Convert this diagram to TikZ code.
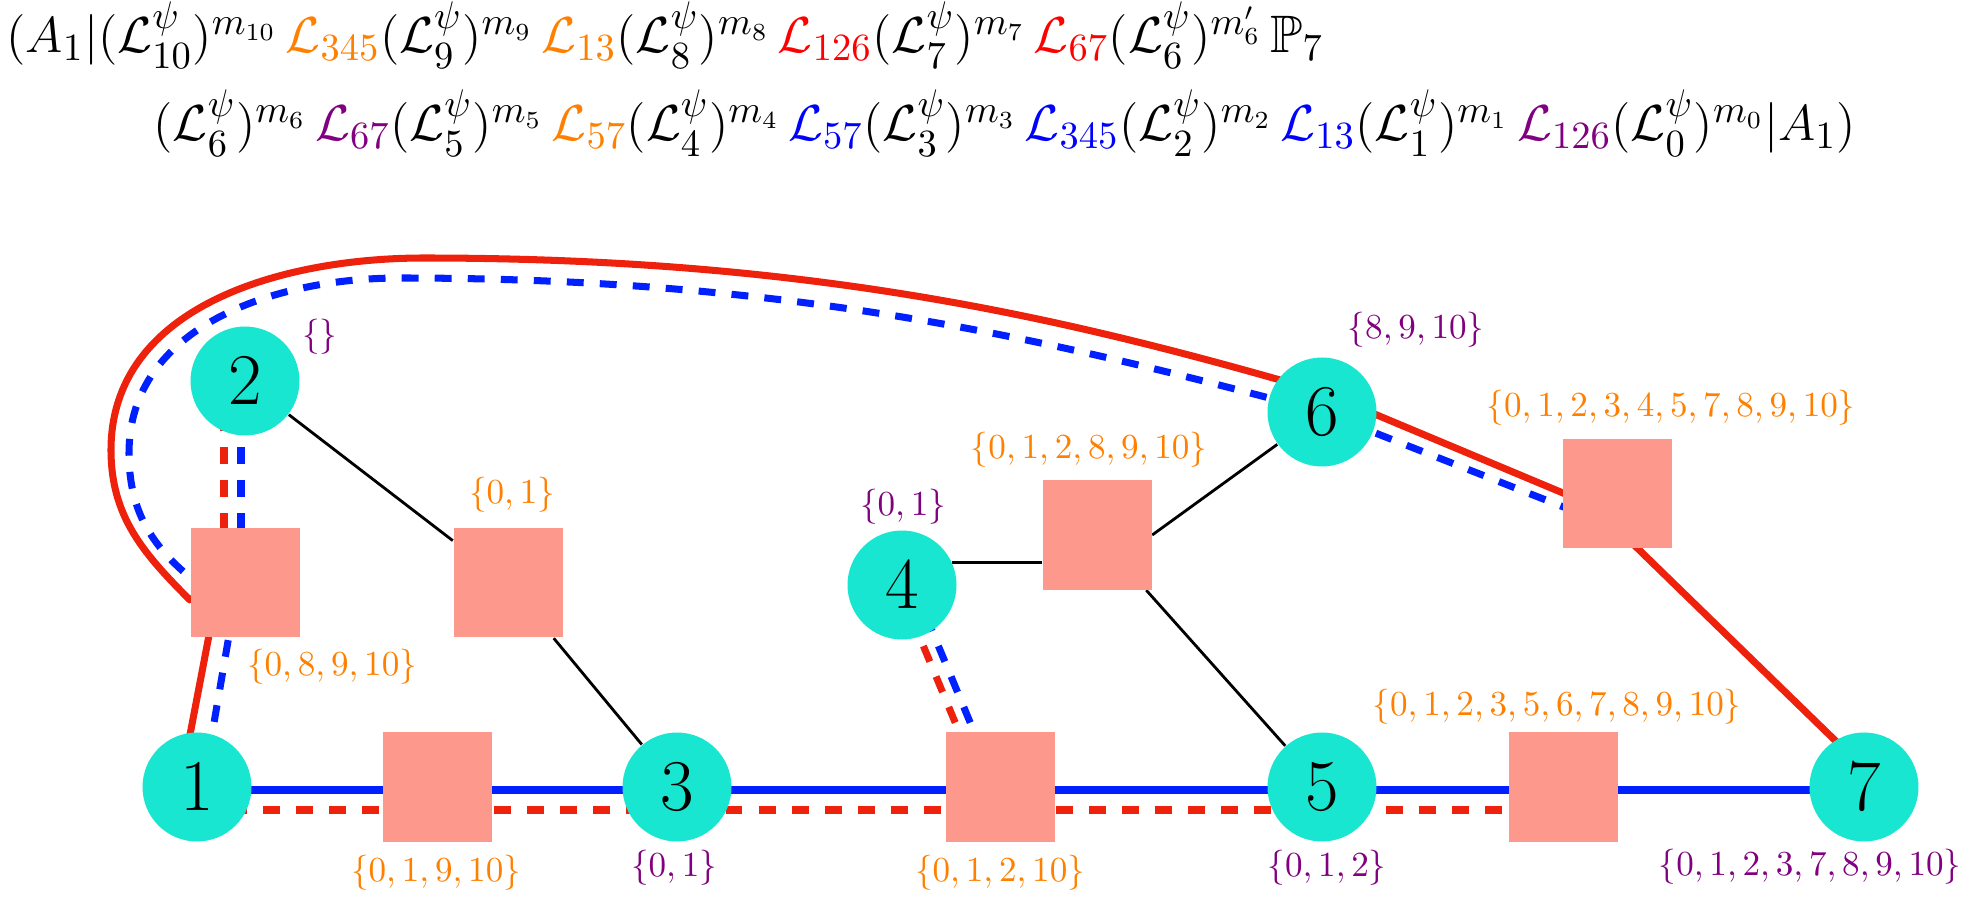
\documentclass[tikz,border=0pt]{standalone}
\usepackage{amsmath, amssymb}
\usepackage{tikz}
\usetikzlibrary{backgrounds}
\definecolor{vertteal}{RGB}{24, 230, 208}
\definecolor{facsalmon}{RGB}{253, 152, 140}
\definecolor{pathred}{RGB}{238, 34, 12}
\definecolor{pathblue}{RGB}{0, 32, 255}
\definecolor{setorange}{RGB}{255, 128, 0}
\definecolor{setpurple}{RGB}{128, 0, 128}
\newcommand{\Lpsi}[1]{(\mathcal{L}^{\psi}_{#1})}
\newcommand{\Lcol}[2]{\textcolor{#1}{\mathcal{L}_{#2}}}

\begin{document}
\begin{tikzpicture}[
    vert/.style={circle, fill=vertteal, minimum size=1.09cm, inner sep=0pt,
                 font=\fontsize{21}{24}\selectfont},
    fac/.style={rectangle, fill=facsalmon, minimum size=1.09cm, inner sep=0pt},
    vlbl/.style={setpurple, inner sep=0pt},
    slbl/.style={setorange, inner sep=0pt},
    edge/.style={black, thick},
    redline/.style={pathred, line width=2pt, line join=round},
    blueline/.style={pathblue, line width=2pt},
    reddash/.style={pathred, line width=2pt, dash pattern=on 4.8pt off 4.6pt},
    bluedash/.style={pathblue, line width=2pt, dash pattern=on 4.8pt off 4.6pt},
    formula/.style={anchor=base west, inner sep=0pt, font=\fontsize{15}{18}\selectfont}]
  \useasboundingbox (0,0) rectangle (19.73,8.97);

  % the two rows of the word
  \node[formula] (row1) at (0.06,8.44)
    {$(A_1|\Lpsi{10}^{m_{10}}\,\Lcol{setorange}{345}\Lpsi{9}^{m_9}\,\Lcol{setorange}{13}\Lpsi{8}^{m_8}\,\Lcol{red}{126}\Lpsi{7}^{m_7}\,\Lcol{red}{67}\Lpsi{6}^{m'_6}\,\mathbb{P}_7$};
  \node[formula] (row2) at (1.53,7.56)
    {$\Lpsi{6}^{m_6}\,\Lcol{setpurple}{67}\Lpsi{5}^{m_5}\,\Lcol{setorange}{57}\Lpsi{4}^{m_4}\,\Lcol{blue}{57}\Lpsi{3}^{m_3}\,\Lcol{blue}{345}\Lpsi{2}^{m_2}\,\Lcol{blue}{13}\Lpsi{1}^{m_1}\,\Lcol{setpurple}{126}\Lpsi{0}^{m_0}|A_1)$};

  % vertices and faces
  \foreach \n/\x/\y in {1/1.97/1.10, 2/2.45/5.16, 3/6.77/1.10, 4/9.02/3.12,
                        5/13.22/1.10, 6/13.22/4.85, 7/18.64/1.10}
    \node[vert] (n\n) at (\x,\y) {$\n$};
  \foreach \s/\x/\y in {12/2.45/3.14, 23/5.08/3.14, 13/4.37/1.10, 34/10.00/1.10,
                        46/10.97/3.62, 57/15.63/1.10, 67/16.17/4.03}
    \node[fac] (s\s) at (\x,\y) {};

  % sets
  \foreach \nm/\x/\y/\t in {v2/3.20/5.60/{\{\}}, v6/14.16/5.67/{\{8,9,10\}},
                            v4/9.03/3.90/{\{0,1\}}, v3/6.74/0.29/{\{0,1\}},
                            v5/13.27/0.29/{\{0,1,2\}}, v7/18.10/0.30/{\{0,1,2,3,7,8,9,10\}}}
    \node[vlbl] (l\nm) at (\x,\y) {$\t$};
  \foreach \nm/\x/\y/\t in {s12/3.32/2.30/{\{0,8,9,10\}}, s23/5.12/4.02/{\{0,1\}},
                            s13/4.36/0.24/{\{0,1,9,10\}}, s34/10.00/0.24/{\{0,1,2,10\}},
                            s46/10.89/4.47/{\{0,1,2,8,9,10\}},
                            s57/15.57/1.90/{\{0,1,2,3,5,6,7,8,9,10\}},
                            s67/16.71/4.89/{\{0,1,2,3,4,5,7,8,9,10\}}}
    \node[slbl] (l\nm) at (\x,\y) {$\t$};

  \begin{pgfonlayer}{background}
    % graph edges
    \draw[edge] (n2) -- (s23);
    \draw[edge] (s23) -- (n3);
    \draw[edge] (n4.24) -- (n4.24 -| s46.west);
    \draw[edge] (s46.east) -- (n6);
    \draw[edge] (s46) -- (n5);

    % blue cycle
    \draw[blueline] ([yshift=-0.03cm]n1.center) -- ([yshift=-0.03cm]n7.center);
    \draw[bluedash] ([xshift=-0.04cm]n2.center) -- ([xshift=-0.04cm]s12.center);
    \draw[bluedash] ([xshift=0.11cm]n4.center) -- ([xshift=-0.03cm]s34.center);
    \draw[bluedash] ([xshift=0.06cm]n1.center) -- ([xshift=-0.07cm]s12.center)
      -- (s12.174) to[out=140, in=-90] (1.29,4.44) to[out=90, in=180] (4.0,6.19)
      .. controls (8.0,6.19) and (10.6,5.55) .. (n6.center)
      -- ([yshift=-0.34cm]s67.center);

    % red cycle
    \draw[reddash] ([yshift=-0.23cm]n1.center) -- ([yshift=-0.23cm]s57.center);
    \draw[reddash] ([xshift=-0.21cm]n2.center) -- ([xshift=-0.21cm]s12.center);
    \draw[reddash] ([xshift=-0.04cm]n4.center) -- ([xshift=-0.18cm]s34.center);
    \draw[redline] ([xshift=-0.17cm]n1.center) -- ([xshift=-0.26cm]s12.center)
      -- (s12.197) to[out=135, in=-90] (1.11,4.47) to[out=90, in=180] (4.24,6.39)
      .. controls (8.24,6.39) and (10.8,5.75) .. ([yshift=0.2cm]n6.center)
      -- ([shift={(-0.23,-0.12)}]s67.center) -- ([xshift=0.19cm]n7.center);
  \end{pgfonlayer}
\end{tikzpicture}
\end{document}
